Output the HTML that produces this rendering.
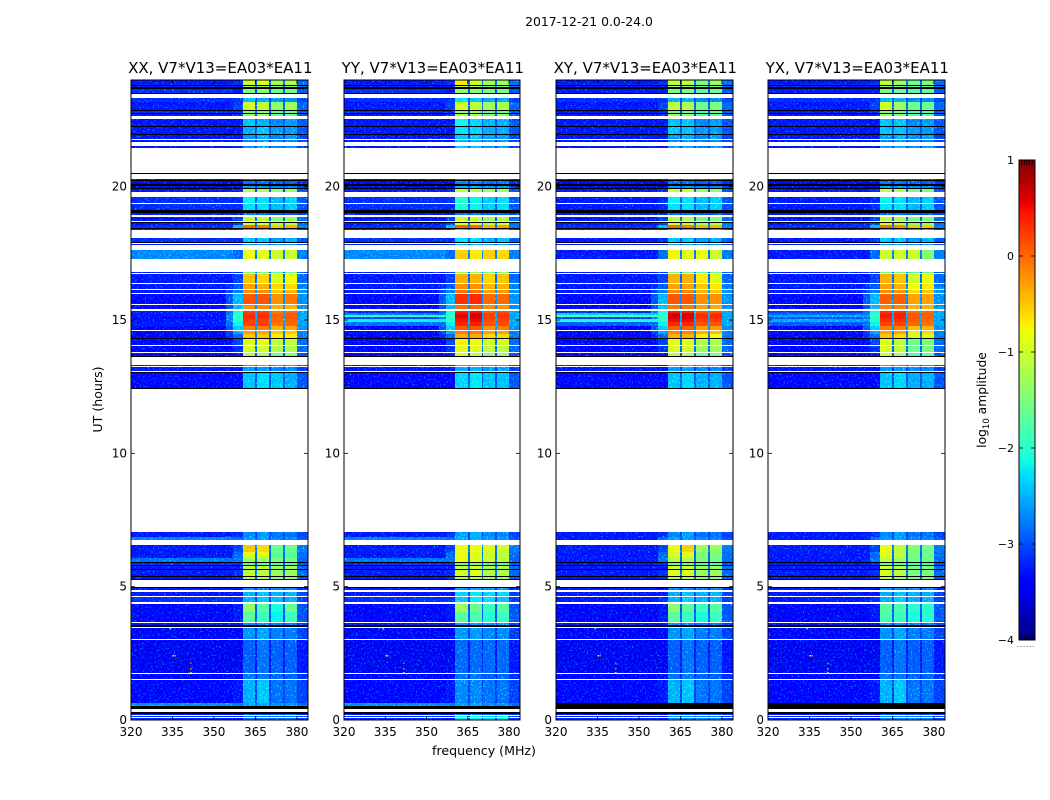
<!DOCTYPE html>
<html lang="en">
<head>
<meta charset="utf-8">
<title>2017-12-21 0.0-24.0 dynamic spectra</title>
<style>
html,body{margin:0;padding:0;background:#fff;}
svg{display:block;}
text{font-family:"DejaVu Sans","Liberation Sans",sans-serif;fill:#000;}
</style>
</head>
<body>
<svg id="figure" xmlns="http://www.w3.org/2000/svg" width="1050" height="800" viewBox="0 0 1050 800">
  <defs>
    <filter id="speckle" filterUnits="userSpaceOnUse" x="100" y="70" width="860" height="660" color-interpolation-filters="sRGB">
      <feTurbulence type="fractalNoise" baseFrequency="0.62 0.58" numOctaves="1" seed="7" result="noise"/>
      <feColorMatrix in="noise" type="matrix" values="0 0 0 0 0  2.2 0 0 0 -1.2  0 0 0 0 0  0 0 0 0 1" result="greenNoise"/>
      <feComposite in="SourceGraphic" in2="greenNoise" operator="arithmetic" k1="0" k2="1" k3="1" k4="0" result="mixed"/>
      <feComposite in="mixed" in2="SourceAlpha" operator="in"/>
    </filter>
  </defs>
  <text x="589" y="26" font-size="12.4" text-anchor="middle">2017-12-21 0.0-24.0</text>
  <text transform="translate(102,399.5) rotate(-90)" font-size="12.6" text-anchor="middle">UT (hours)</text>
  <text x="484" y="755" font-size="12.6" text-anchor="middle">frequency (MHz)</text>
  <text transform="translate(986,400) rotate(-90)" font-size="12.3" text-anchor="middle">log<tspan font-size="8.5" dy="3">10</tspan><tspan dy="-3"> amplitude</tspan></text>
  <g id="panels"></g>
  <g id="colorbar"></g>
  <text x="1026" y="647" font-size="7" fill="#555" text-anchor="middle" letter-spacing="0.8">......</text>
</svg>
<script>
// ---- shared axis data ----
const freqTicks = [320, 335, 350, 365, 380];
const hourTicks = [0, 5, 10, 15, 20];
const colorbarTickValues = [1, 0, -1, -2, -3, -4];
const panelNames = ['XX', 'YY', 'XY', 'YX'];
const panelTitles = ['XX, V7*V13=EA03*EA11', 'YY, V7*V13=EA03*EA11', 'XY, V7*V13=EA03*EA11', 'YX, V7*V13=EA03*EA11'];

// Channel groups across the frequency axis (MHz); the last edge closes the axis.
const channelEdges = [320, 354.5, 357, 360.4, 365, 365.7, 370, 370.6, 375, 375.6, 379.9, 384];
const channelKinds = ['bg', 'wing', 'shoulder', 's1', 'gap', 's2', 'gap', 's3', 'gap', 's4', 'gap'];

// Time rows from the top of the axis (24 h) downward: lower edge in hours.
const rowLowerEdges = [
  23.81,23.78,23.72,23.68,23.52,23.46,23.31,23.16,22.88,22.84,
  22.77,22.74,22.66,22.54,22.28,22.24,21.96,21.93,21.79,21.75,
  21.68,21.53,21.46,20.51,20.48,20.29,20.24,20.20,20.11,20.03,
  19.96,19.91,19.79,19.62,19.38,19.34,19.13,19.02,18.94,18.85,
  18.72,18.68,18.63,18.56,18.46,18.42,18.39,18.09,17.93,17.89,
  17.85,17.81,17.63,17.29,16.79,16.76,16.74,16.40,16.36,16.16,
  16.13,16.00,15.98,15.60,15.56,15.41,15.35,15.26,15.19,15.11,
  15.04,14.93,14.79,14.76,14.63,14.59,14.48,14.34,14.30,14.06,
  14.03,13.79,13.75,13.65,13.60,13.32,13.26,13.22,13.10,13.06,
  13.02,12.46,12.42,7.05,6.85,6.75,6.56,6.30,6.06,5.94,
  5.90,5.87,5.80,5.77,5.66,5.63,5.40,5.36,5.30,5.25,
  5.00,4.94,4.89,4.80,4.65,4.61,4.43,4.36,4.05,3.69,
  3.65,3.56,3.50,3.46,3.05,3.01,1.75,1.71,1.52,1.49,
  0.63,0.53,0.40,0.29,0.23,0.18,0.14,0.10,0.06,0
];
// d = measured row, w = flagged (blank), k = zero amplitude (black)
const rowKinds =
  'dkdkdkwddk'+'dkdwdkdkdw'+'dwdwkwdkdk'+'dkdwdwdkdw'+'dwkddkdwdk'+
  'wdwdwdwdwd'+'wdwdwdwddd'+'dddwdwddkd'+'wdwdkwdwdw'+'kdkwddwddd'+
  'kwdkdkdkdk'+'wkdwdwdwdd'+'wdkwdwdwdw'+'ddkwkdwdwd';

// Per measured row: background level for parallel hands (XX, YY).
const bgParallel = [
  -3.3,-3.3,-3.2,-3.2,-3.3,-3.2,-3.3,-3.3,-3.3,-3.3,
  -3.3,-3.3,-3.4,-3.4,-3.4,-3.3,-3.2,-3.2,-3.3,-3.3,
  -3.3,-3.2,-3.3,-3.2,-3.3,-2.75,-3.3,-3.3,-3.3,-3.3,
  -3.4,-3.4,-3.3,-3.3,-3.3,-3.3,-3.3,-3.3,-3.4,-3.4,
  -3.4,-3.4,-3.4,-3.4,-3.3,-3.3,-3.4,-3.3,-2.8,-3.3,
  -3.3,-2.85,-3.2,-3.3,-3.3,-3.3,-3.3,-3.3,-3.2,-3.4,
  -3.4,-3.3,-3.4,-3.5,-3.4,-3.4,-2.7,-3.3,-3.2,-3.2
];
// Per measured row: background level for cross hands (XY, YX).
const bgCross = [
  -3.3,-3.3,-3.3,-3.2,-3.3,-3.3,-3.3,-3.3,-3.3,-3.3,
  -3.3,-3.3,-3.4,-3.4,-3.4,-3.3,-3.3,-3.3,-3.3,-3.3,
  -3.3,-3.2,-3.3,-3.3,-3.3,-3.3,-3.3,-3.3,-3.3,-3.3,
  -3.4,-3.4,-3.3,-3.3,-3.3,-3.3,-3.3,-3.3,-3.4,-3.4,
  -3.4,-3.4,-3.4,-3.4,-3.3,-3.3,-3.4,-3.3,-3.3,-3.3,
  -3.3,-3.3,-3.3,-3.3,-3.3,-3.3,-3.3,-3.3,-3.3,-3.4,
  -3.4,-3.3,-3.4,-3.5,-3.4,-3.4,-5,-3.3,-3.2,-3.2
];
// Background of the six rows around 15 h, where each hand shows its own interference lines.
const lineRowStart = 32;
const lineBgXX = [-3.3,-3.3,-3.3,-3.4,-3.3,-3.3];
const lineBgYY = [-3.2,-2.8,-2.0,-3.1,-2.2,-2.9];
const lineBgXY = [-3.2,-2.4,-1.8,-3.1,-2.1,-3.0];
const lineBgYX = [-3.1,-2.9,-2.6,-3.0,-2.6,-3.0];

// Per measured row: level just below the first sub-band (357-360.4 MHz).
const shoulderLevels = [
  -3.2,-3.3,-3.3,-3.2,-3.1,-3.2,-3.2,-3.3,-3.3,-3.3,
  -3.3,-3.3,-3.4,-3.4,-3.4,-3.2,-3.2,-3.2,-3.3,-3.1,
  -3.1,-2.5,-3.3,-3.2,-3.3,-2.9,-3.2,-3.1,-3.0,-2.8,
  -2.5,-2.5,-2.1,-2.0,-1.9,-2.0,-2.0,-2.2,-2.4,-2.6,
  -2.9,-3.1,-3.2,-3.3,-3.3,-3.3,-3.4,-3.2,-2.9,-3.1,
  -2.9,-2.85,-3.2,-3.3,-3.2,-3.2,-3.4,-3.3,-3.2,-3.3,
  -3.3,-3.3,-3.4,-3.5,-3.4,-3.3,-2.8,-3.4,-3.3,-3.3
];
// Outer wing (354.5-357 MHz), only raised above background during the strong event.
const wingRowStart = 28;
const wingLevels = [-3.2,-3.1,-3.0,-3.0,-2.85,-2.8,-2.7,-2.8,-2.8,-2.9,-3.0,-3.1,-3.2];
// Per measured row: level in the gaps between sub-bands and above 380 MHz.
const gapLevels = [
  -2.9,-2.9,-3.0,-3.1,-2.9,-3.0,-3.0,-3.0,-3.0,-3.1,
  -3.1,-3.1,-3.2,-3.2,-3.1,-3.0,-3.0,-3.0,-3.1,-2.9,
  -2.9,-2.8,-3.1,-3.0,-3.1,-2.8,-3.0,-2.9,-2.8,-2.7,
  -2.7,-2.7,-2.6,-2.6,-2.6,-2.6,-2.6,-2.6,-2.7,-2.8,
  -2.8,-2.9,-2.9,-3.0,-3.1,-3.1,-3.0,-3.1,-3.0,-2.8,
  -2.9,-2.9,-3.0,-2.9,-2.9,-3.0,-3.2,-3.1,-3.1,-3.0,
  -3.0,-3.1,-3.1,-3.3,-3.2,-3.1,-2.9,-3.2,-3.1,-3.1
];

// Per measured row: log10 amplitude in sub-bands 1-4 of each polarisation.
const bandsXX = [
  [-1.0,-0.9,-1.3,-1.2],[-1.2,-1.2,-1.4,-1.3],[-1.5,-1.4,-1.6,-1.6],[-2.5,-2.6,-2.7,-2.7],[-1.0,-1.1,-1.4,-1.3],
  [-1.5,-1.5,-1.7,-1.6],[-1.3,-1.3,-1.6,-1.5],[-2.45,-2.55,-2.75,-2.65],[-2.55,-2.45,-2.65,-2.65],[-2.65,-2.55,-2.75,-2.65],
  [-2.75,-2.65,-2.75,-2.75],[-2.65,-2.55,-2.75,-2.65],[-2.9,-2.9,-3.0,-3.0],[-2.85,-2.85,-2.95,-2.95],[-2.65,-2.65,-2.75,-2.75],
  [-1.2,-1.2,-1.4,-1.4],[-2.2,-2.3,-2.5,-2.4],[-2.3,-2.3,-2.5,-2.4],[-2.9,-2.9,-3.0,-3.0],[-1.1,-1.1,-1.4,-1.3],
  [-1.0,-1.0,-1.2,-1.1],[-0.0,-0.1,-0.5,-0.4],[-2.45,-2.45,-2.65,-2.55],[-2.45,-2.45,-2.65,-2.55],[-2.65,-2.65,-2.75,-2.75],
  [-0.8,-0.9,-1.0,-1.0],[-1.6,-1.6,-1.8,-1.7],[-0.5,-0.6,-0.9,-0.8],[-0.3,-0.4,-0.6,-0.6],[-0.2,-0.2,-0.5,-0.4],
  [0.1,0.1,-0.2,-0.1],[-0.2,-0.2,-0.4,-0.4],[0.2,0.2,-0.1,0.0],[0.3,0.3,0.0,0.1],[0.35,0.35,0.05,0.1],
  [0.3,0.3,0.0,0.1],[0.25,0.25,0.0,0.05],[0.2,0.2,-0.05,0.0],[-0.1,-0.1,-0.4,-0.3],[-0.3,-0.3,-0.5,-0.5],
  [-0.5,-0.5,-0.7,-0.7],[-0.9,-0.9,-1.1,-1.1],[-1.0,-1.0,-1.2,-1.2],[-1.2,-1.2,-1.5,-1.4],[-2.55,-2.55,-2.65,-2.65],
  [-2.65,-2.65,-2.75,-2.75],[-2.45,-2.3,-2.45,-2.55],[-2.75,-2.65,-2.85,-2.85],[-2.65,-2.65,-2.75,-2.75],[-0.5,-0.6,-1.6,-1.6],
  [-0.9,-0.9,-1.7,-1.7],[-1.3,-1.3,-1.5,-1.6],[-1.7,-1.7,-1.8,-1.8],[-1.1,-1.1,-1.3,-1.3],[-1.1,-1.1,-1.3,-1.3],
  [-1.2,-1.2,-1.4,-1.4],[-2.75,-2.75,-2.75,-2.75],[-2.55,-2.45,-2.55,-2.55],[-2.55,-2.45,-2.55,-2.55],[-1.4,-1.7,-2.1,-1.6],
  [-1.7,-1.9,-2.2,-1.9],[-2.7,-2.7,-2.8,-2.8],[-2.7,-2.6,-2.8,-2.8],[-2.95,-2.85,-2.95,-2.95],[-2.85,-2.85,-2.95,-2.95],
  [-2.55,-2.45,-2.85,-2.85],[-2.6,-2.6,-2.7,-2.7],[-3.0,-3.0,-3.0,-3.0],[-2.85,-2.85,-2.85,-2.85],[-2.85,-2.85,-2.85,-2.85]
];
const bandsYY = [
  [-0.7,-1.0,-1.3,-1.3],[-1.1,-1.2,-1.4,-1.4],[-1.4,-1.4,-1.5,-1.5],[-2.3,-2.5,-2.6,-2.6],[-1.0,-1.1,-1.3,-1.2],
  [-1.4,-1.4,-1.6,-1.6],[-1.2,-1.2,-1.5,-1.4],[-2.15,-2.35,-2.55,-2.55],[-2.25,-2.35,-2.55,-2.55],[-2.45,-2.45,-2.65,-2.65],
  [-2.55,-2.55,-2.65,-2.65],[-2.45,-2.45,-2.65,-2.65],[-2.85,-2.85,-2.95,-2.95],[-2.75,-2.75,-2.85,-2.85],[-2.55,-2.55,-2.65,-2.65],
  [-1.1,-1.1,-1.3,-1.3],[-2.0,-2.2,-2.4,-2.3],[-2.1,-2.2,-2.4,-2.3],[-2.85,-2.85,-2.95,-2.95],[-1.0,-1.0,-1.3,-1.2],
  [-0.9,-0.9,-1.1,-1.0],[0.05,0.0,-0.4,-0.3],[-2.35,-2.35,-2.55,-2.45],[-2.35,-2.35,-2.55,-2.45],[-2.55,-2.55,-2.65,-2.65],
  [-0.55,-0.7,-0.55,-0.6],[-1.4,-1.4,-1.6,-1.5],[-0.4,-0.4,-0.6,-0.5],[-0.2,-0.2,-0.4,-0.4],[-0.05,-0.05,-0.3,-0.25],
  [0.3,0.35,0.0,0.0],[-0.05,0.0,-0.2,-0.25],[0.4,0.45,0.1,0.15],[0.5,0.55,0.2,0.25],[0.55,0.6,0.2,0.3],
  [0.5,0.55,0.2,0.25],[0.45,0.5,0.15,0.2],[0.35,0.4,0.1,0.15],[0.1,0.1,-0.2,-0.1],[-0.1,-0.1,-0.3,-0.3],
  [-0.35,-0.35,-0.6,-0.6],[-0.75,-0.8,-1.0,-1.0],[-0.9,-0.9,-1.1,-1.1],[-1.0,-1.1,-1.4,-1.3],[-2.45,-2.45,-2.55,-2.55],
  [-2.55,-2.55,-2.65,-2.65],[-2.35,-2.25,-2.45,-2.45],[-2.65,-2.55,-2.75,-2.75],[-2.55,-2.55,-2.65,-2.65],[-0.8,-0.8,-0.9,-1.0],
  [-0.85,-0.9,-1.0,-1.1],[-0.8,-0.9,-1.0,-1.1],[-1.6,-1.6,-1.7,-1.7],[-1.1,-1.0,-1.2,-1.2],[-1.0,-0.9,-1.2,-1.2],
  [-1.1,-1.1,-1.3,-1.3],[-2.65,-2.65,-2.65,-2.65],[-2.35,-2.25,-2.35,-2.35],[-2.45,-2.25,-2.35,-2.45],[-1.3,-1.6,-1.9,-1.7],
  [-1.7,-1.8,-2.0,-1.9],[-2.65,-2.65,-2.65,-2.65],[-2.65,-2.65,-2.75,-2.75],[-2.9,-2.9,-2.9,-2.9],[-2.85,-2.85,-2.95,-2.95],
  [-2.75,-2.75,-2.85,-2.85],[-2.6,-2.6,-2.7,-2.7],[-2.95,-2.95,-2.95,-2.95],[-2.1,-2.1,-2.3,-2.1],[-2.2,-2.2,-2.3,-2.2]
];
const bandsXY = [
  [-1.1,-1.1,-1.5,-1.3],[-1.2,-1.3,-1.5,-1.4],[-1.5,-1.5,-1.7,-1.6],[-2.55,-2.55,-2.75,-2.75],[-1.1,-1.2,-1.6,-1.5],
  [-1.5,-1.6,-1.8,-1.7],[-1.3,-1.3,-1.7,-1.6],[-2.45,-2.45,-2.75,-2.65],[-2.45,-2.45,-2.65,-2.65],[-2.65,-2.55,-2.75,-2.65],
  [-2.75,-2.65,-2.75,-2.75],[-2.65,-2.55,-2.75,-2.65],[-2.9,-2.9,-3.0,-3.0],[-2.85,-2.85,-2.95,-2.95],[-2.65,-2.65,-2.75,-2.75],
  [-1.0,-1.0,-1.4,-1.4],[-2.2,-2.3,-2.5,-2.4],[-2.3,-2.3,-2.5,-2.4],[-2.9,-2.9,-3.0,-3.0],[-1.1,-1.1,-1.5,-1.4],
  [-1.0,-1.0,-1.3,-1.2],[0.0,-0.1,-0.4,-0.4],[-2.45,-2.45,-2.65,-2.55],[-2.45,-2.45,-2.65,-2.55],[-2.65,-2.65,-2.75,-2.75],
  [-0.75,-0.85,-0.8,-1.0],[-1.6,-1.6,-1.8,-1.7],[-0.4,-0.4,-0.7,-0.9],[-0.3,-0.3,-0.5,-0.7],[-0.15,-0.15,-0.4,-0.5],
  [0.1,0.1,-0.2,-0.2],[-0.1,-0.1,-0.3,-0.35],[0.4,0.4,0.1,0.1],[0.6,0.6,0.3,0.3],[0.65,0.6,0.35,0.35],
  [0.6,0.6,0.3,0.3],[0.5,0.5,0.25,0.25],[0.35,0.35,0.1,0.1],[0.05,0.05,-0.25,-0.25],[-0.15,-0.15,-0.4,-0.45],
  [-0.4,-0.4,-0.7,-0.8],[-0.85,-0.9,-1.2,-1.2],[-0.95,-1.0,-1.3,-1.3],[-1.1,-1.2,-1.6,-1.4],[-2.55,-2.55,-2.65,-2.65],
  [-2.65,-2.65,-2.75,-2.75],[-2.45,-2.35,-2.55,-2.55],[-2.75,-2.65,-2.85,-2.85],[-2.65,-2.65,-2.75,-2.75],[-0.8,-0.55,-1.3,-1.3],
  [-0.95,-0.9,-1.5,-1.5],[-1.2,-1.2,-1.5,-1.6],[-1.7,-1.7,-1.8,-1.8],[-1.0,-1.0,-1.3,-1.3],[-0.9,-0.9,-1.3,-1.3],
  [-1.1,-1.1,-1.4,-1.4],[-2.75,-2.75,-2.75,-2.75],[-2.55,-2.45,-2.55,-2.55],[-2.55,-2.45,-2.55,-2.55],[-1.4,-1.7,-1.9,-1.7],
  [-1.7,-1.9,-2.1,-1.9],[-2.7,-2.7,-2.8,-2.8],[-2.7,-2.6,-2.8,-2.8],[-2.95,-2.85,-2.95,-2.95],[-2.85,-2.85,-2.95,-2.95],
  [-2.55,-2.45,-2.85,-2.85],[-2.75,-2.75,-2.75,-2.75],[-3.0,-3.0,-3.0,-3.0],[-2.7,-2.7,-2.8,-2.8],[-2.75,-2.75,-2.75,-2.75]
];
const bandsYX = [
  [-1.1,-1.3,-1.6,-1.5],[-1.3,-1.4,-1.6,-1.5],[-1.5,-1.6,-1.7,-1.7],[-2.55,-2.55,-2.75,-2.75],[-1.0,-1.3,-1.6,-1.6],
  [-1.5,-1.6,-1.8,-1.8],[-1.3,-1.4,-1.7,-1.7],[-2.45,-2.45,-2.75,-2.65],[-2.45,-2.45,-2.65,-2.65],[-2.65,-2.55,-2.75,-2.65],
  [-2.75,-2.65,-2.75,-2.75],[-2.65,-2.55,-2.75,-2.65],[-2.9,-2.9,-3.0,-3.0],[-2.85,-2.85,-2.95,-2.95],[-2.65,-2.65,-2.75,-2.75],
  [-1.1,-1.2,-1.5,-1.5],[-2.2,-2.3,-2.5,-2.4],[-2.3,-2.3,-2.5,-2.4],[-2.9,-2.9,-3.0,-3.0],[-1.1,-1.2,-1.5,-1.5],
  [-1.0,-1.1,-1.4,-1.3],[0.0,-0.2,-0.5,-0.5],[-2.45,-2.45,-2.65,-2.55],[-2.45,-2.45,-2.65,-2.55],[-2.65,-2.65,-2.75,-2.75],
  [-1.0,-1.0,-1.0,-1.45],[-1.6,-1.6,-1.8,-1.7],[-0.4,-0.5,-1.0,-0.8],[-0.3,-0.4,-0.8,-0.7],[-0.2,-0.2,-0.6,-0.5],
  [0.05,0.05,-0.3,-0.3],[-0.15,-0.15,-0.4,-0.4],[0.3,0.3,0.0,0.0],[0.4,0.4,0.1,0.05],[0.45,0.4,0.1,0.05],
  [0.4,0.4,0.1,0.05],[0.3,0.3,0.05,0.0],[0.2,0.2,0.0,-0.05],[-0.1,-0.1,-0.45,-0.4],[-0.3,-0.3,-0.7,-0.6],
  [-0.5,-0.6,-1.0,-0.9],[-0.9,-1.1,-1.6,-1.5],[-0.95,-1.1,-1.6,-1.5],[-1.0,-1.2,-1.8,-1.6],[-2.55,-2.55,-2.65,-2.65],
  [-2.65,-2.65,-2.75,-2.75],[-2.45,-2.35,-2.55,-2.55],[-2.75,-2.65,-2.85,-2.85],[-2.65,-2.65,-2.75,-2.75],[-0.85,-1.1,-1.45,-1.55],
  [-0.9,-1.1,-1.5,-1.6],[-1.1,-1.3,-1.6,-1.6],[-1.7,-1.7,-1.8,-1.8],[-1.0,-1.2,-1.5,-1.5],[-0.95,-1.1,-1.5,-1.5],
  [-1.1,-1.3,-1.5,-1.5],[-2.75,-2.75,-2.75,-2.75],[-2.55,-2.45,-2.55,-2.55],[-2.55,-2.45,-2.55,-2.55],[-1.7,-1.8,-2.0,-2.0],
  [-1.8,-1.9,-2.1,-2.0],[-2.7,-2.7,-2.8,-2.8],[-2.7,-2.6,-2.8,-2.8],[-2.95,-2.85,-2.95,-2.95],[-2.85,-2.85,-2.95,-2.95],
  [-2.55,-2.45,-2.85,-2.85],[-2.75,-2.75,-2.75,-2.75],[-3.0,-3.0,-3.0,-3.0],[-2.7,-2.7,-2.8,-2.8],[-2.75,-2.75,-2.75,-2.75]
];
// A few isolated interference spikes: frequency (MHz), time (h), log10 amplitude.
const spikeFreqs = [335, 335.7, 341.4, 341.4, 341.4, 334];
const spikeHours = [2.43, 2.43, 2.15, 1.95, 1.8, 3.45];
const spikeLevels = [-1.0, -0.2, 0.0, -0.2, -0.8, -1.9];

// ---- layout (styles, not data) ----
const panelLefts = [131, 344, 556, 768];
const panelWidths = [177, 176, 177, 177];
const plotTop = 80, plotHeight = 640;
const colorMin = -4, colorMax = 1;
const bandTables = [bandsXX, bandsYY, bandsXY, bandsYX];
const bgTables = [bgParallel, bgParallel, bgCross, bgCross];
const lineTables = [lineBgXX, lineBgYY, lineBgXY, lineBgYX];

const NS = 'http://www.w3.org/2000/svg';
function make(tag, parent, attrs) {
  const el = document.createElementNS(NS, tag);
  for (const k in attrs) el.setAttribute(k, attrs[k]);
  parent.appendChild(el);
  return el;
}
function interp(x, pts) {
  if (x <= pts[0][0]) return pts[0][1];
  for (let i = 1; i < pts.length; i++) {
    if (x <= pts[i][0]) {
      const t = (x - pts[i-1][0]) / (pts[i][0] - pts[i-1][0]);
      return pts[i-1][1] + t * (pts[i][1] - pts[i-1][1]);
    }
  }
  return pts[pts.length-1][1];
}
function jet(v) {
  const f = Math.min(1, Math.max(0, (v - colorMin) / (colorMax - colorMin)));
  const r = interp(f, [[0,0],[0.35,0],[0.66,1],[0.89,1],[1,0.5]]);
  const g = interp(f, [[0,0],[0.125,0],[0.375,1],[0.64,1],[0.91,0],[1,0]]);
  const b = interp(f, [[0,0.5],[0.11,1],[0.34,1],[0.65,0],[1,0]]);
  return 'rgb(' + Math.round(r*255) + ',' + Math.round(g*255) + ',' + Math.round(b*255) + ')';
}
function yScale(h) { return plotTop + (24 - h) / 24 * plotHeight; }
function cellValue(p, d, kind) {
  if (kind === 's1') return bandTables[p][d][0];
  if (kind === 's2') return bandTables[p][d][1];
  if (kind === 's3') return bandTables[p][d][2];
  if (kind === 's4') return bandTables[p][d][3];
  if (kind === 'gap') return gapLevels[d];
  if (kind === 'shoulder') return shoulderLevels[d];
  const line = lineTables[p][d - lineRowStart];
  const bg = line !== undefined ? line : bgTables[p][d];
  if (kind === 'wing') {
    const w = wingLevels[d - wingRowStart];
    return w !== undefined ? Math.max(w, bg) : bg;
  }
  return bg;
}

const panelsRoot = document.getElementById('panels');
panelNames.forEach(function (name, p) {
  const left = panelLefts[p], width = panelWidths[p];
  const xScale = function (f) { return left + (f - 320) / 64 * width; };
  const panel = make('g', panelsRoot, {});
  
  

  const faint = make('g', panel, { filter: 'url(#speckle)', 'shape-rendering': 'crispEdges' });
  
  
  const bright = make('g', panel, { 'shape-rendering': 'crispEdges' });
  
  

  let upper = 24, d = 0;
  rowLowerEdges.forEach(function (lower, r) {
    const kind = rowKinds[r];
    const y0 = Math.round(yScale(upper)), y1 = Math.round(yScale(lower));
    if (kind === 'k' || (kind === 'd' && bgTables[p][d] < colorMin)) {
      const blackRow = make('rect', bright, { x: left, y: y0, width: width, height: y1 - y0, fill: '#000' });
      
      
    } else if (kind === 'd') {
      channelKinds.forEach(function (ck, c) {
        const v = cellValue(p, d, ck);
        const x0 = Math.round(xScale(channelEdges[c])), x1 = Math.round(xScale(channelEdges[c + 1]));
        const cell = make('rect', v < -1.5 ? faint : bright, { x: x0, y: y0, width: x1 - x0, height: y1 - y0, fill: jet(v) });
        
        
      });
    }
    if (kind === 'd') d++;
    upper = lower;
  });

  spikeFreqs.forEach(function (f, i) {
    const spike = make('rect', bright, { x: xScale(f), y: yScale(spikeHours[i]), width: 1.5, height: 1.5, fill: jet(spikeLevels[i]) });
    
    
  });

  const frame = make('rect', panel, { x: left, y: plotTop, width: width, height: plotHeight, fill: 'none', stroke: '#000', 'stroke-width': 1 });
  
  

  const title = make('text', panel, { x: left + width / 2 + 0.8, y: 73, 'font-size': 15, 'text-anchor': 'middle' });
  title.textContent = panelTitles[p];
  
  

  freqTicks.forEach(function (f) {
    const x = xScale(f);
    const t1 = make('line', panel, { x1: x, x2: x, y1: plotTop + plotHeight, y2: plotTop + plotHeight - 4, stroke: '#000', 'stroke-width': 0.8 });
    
    
    const t2 = make('line', panel, { x1: x, x2: x, y1: plotTop, y2: plotTop + 4, stroke: '#000', 'stroke-width': 0.8 });
    
    
    const lab = make('text', panel, { x: x, y: 736, 'font-size': 12, 'text-anchor': 'middle' });
    lab.textContent = String(f);
    
    
  });
  hourTicks.forEach(function (h) {
    const y = yScale(h);
    const t1 = make('line', panel, { x1: left, x2: left + 4, y1: y, y2: y, stroke: '#000', 'stroke-width': 0.8 });
    
    
    const t2 = make('line', panel, { x1: left + width, x2: left + width - 4, y1: y, y2: y, stroke: '#000', 'stroke-width': 0.8 });
    
    
    const lab = make('text', panel, { x: left - 4, y: y + 4, 'font-size': 12, 'text-anchor': 'end' });
    lab.textContent = String(h);
    
    
  });
});

// ---- colorbar ----
const cbRoot = document.getElementById('colorbar');
const cbX = 1019, cbW = 16, cbTop = 160, cbH = 480;
function cbY(v) { return cbTop + (colorMax - v) / (colorMax - colorMin) * cbH; }
const cbStrips = make('g', cbRoot, { 'shape-rendering': 'crispEdges' });


for (let i = 0; i < cbH; i += 3) {
  const v = colorMax - (i + 1.5) / cbH * (colorMax - colorMin);
  const strip = make('rect', cbStrips, { x: cbX, y: cbTop + i, width: cbW, height: 3, fill: jet(v) });
  
  
}
const cbFrame = make('rect', cbRoot, { x: cbX, y: cbTop, width: cbW, height: cbH, fill: 'none', stroke: '#000', 'stroke-width': 1 });


colorbarTickValues.forEach(function (v) {
  const y = cbY(v);
  const l1 = make('line', cbRoot, { x1: cbX, x2: cbX + 4, y1: y, y2: y, stroke: '#000', 'stroke-width': 0.8 });
  
  
  const l2 = make('line', cbRoot, { x1: cbX + cbW, x2: cbX + cbW - 4, y1: y, y2: y, stroke: '#000', 'stroke-width': 0.8 });
  
  
  const lab = make('text', cbRoot, { x: cbX - 5, y: y + 4, 'font-size': 11, 'text-anchor': 'end' });
  lab.textContent = String(v).replace('-', '\u2212');
  
  
});
for (let i = 1; i < 6; i++) {
  const x = cbX + i * cbW / 6;
  const a = make('line', cbRoot, { x1: x, x2: x, y1: cbTop, y2: cbTop + 5, stroke: '#000', 'stroke-width': 0.8 });
  
  
  const b = make('line', cbRoot, { x1: x, x2: x, y1: cbTop + cbH, y2: cbTop + cbH - 5, stroke: '#000', 'stroke-width': 0.8 });
  
  
}
</script>
</body>
</html>
